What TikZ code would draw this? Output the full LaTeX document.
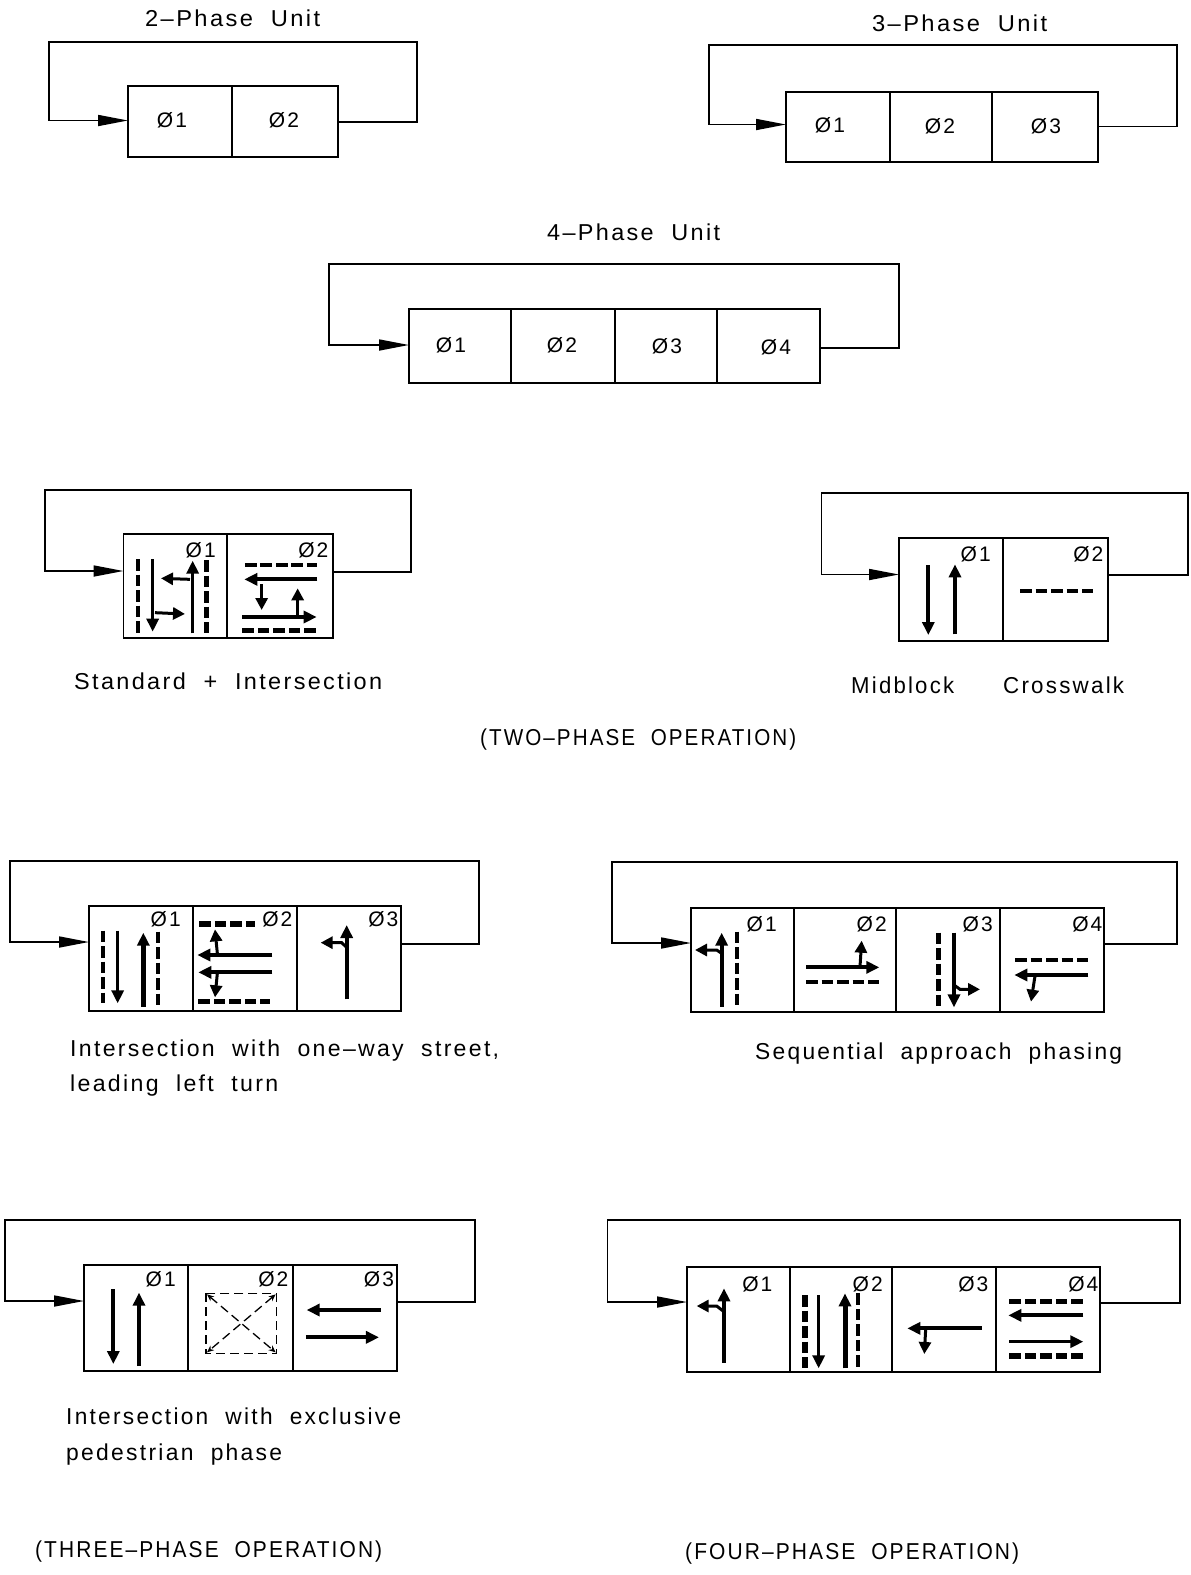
\documentclass[tikz,border=0pt]{standalone}
\usepackage{fontspec}
\usepackage{graphicx}
\newfontfamily\cadfont[LetterSpace=10,WordSpace=2]{Liberation Sans}
\usetikzlibrary{arrows.meta}
\tikzset{
  cellbox/.style={draw=black,line width=1.4pt,inner sep=0pt,outer sep=0pt,fill=white},
  loopline/.style={draw=black,line width=1.7pt,-{Triangle[length=30pt,width=11pt]},shorten >=0pt},
  phaselabel/.style={font=\cadfont\fontsize{21}{21}\selectfont,inner sep=0pt,text=black},
  caption/.style={inner sep=0pt,anchor=base west,text=black},
  road/.style={draw=black,line width=4pt,-{Triangle[length=13pt,width=12pt]}},
  roadthin/.style={draw=black,line width=3.2pt,-{Triangle[length=13pt,width=12pt]}},
  roadthick/.style={draw=black,line width=5pt,-{Triangle[length=13pt,width=12pt]}},
  turn/.style={draw=black,line width=3pt,-{Triangle[length=12pt,width=12pt]}},
  walk/.style={draw=black,line width=5.2pt,dash pattern=on 11.6pt off 3.9pt},
  walkthin/.style={draw=black,line width=4.2pt,dash pattern=on 11.6pt off 3.9pt},
  pedline/.style={draw=black,line width=1.3pt,dash pattern=on 9pt off 5pt},
  pedcross/.style={pedline,{Stealth[length=7pt,width=6pt]}-{Stealth[length=7pt,width=6pt]}},
  zoomed/.style={x=0.33333pt,y=-0.33333pt}
}
% name, x0, x1, y0, y1
\newcommand{\phasecell}[5]{\node[cellbox,minimum width={(#3-#2)*1pt},minimum height={(#5-#4)*1pt}] (#1) at ({(#2+#3)/2},{(#4+#5)/2}) {};}
% first, last, in y-shift, out y-shift, left, top, right
\newcommand{\phaseloop}[7]{\draw[loopline] ([yshift=#4pt]#2.east) -| (#7,#6) -- (#5,#6) |- ([yshift=#3pt]#1.west);}
% name, x left, x right, y centre, text
\newcommand{\cadtext}[5]{\node[caption] (#1) at (#2,#4+8) {\resizebox{\dimexpr#3pt-#2pt\relax}{\height}{\cadfont\fontsize{23}{23}\selectfont #5}};}
\begin{document}
\begin{tikzpicture}[x=1pt,y=-1pt]
\useasboundingbox[fill=white] (0,0) rectangle (1191,1575);

% ---------- plain units
\cadtext{t2}{145}{320}{18}{2–Phase Unit}
\phasecell{pA}{128}{232}{86}{157}
\phasecell{pB}{232}{338}{86}{157}
\phaseloop{pA}{pB}{1}{-0.5}{49}{42}{417}
\node[phaselabel] (pAl) at (172,120) {Ø1};
\node[phaselabel] (pBl) at (284,120) {Ø2};

\cadtext{t3}{872}{1047}{23}{3–Phase Unit}
\phasecell{qA}{786}{890}{92}{162}
\phasecell{qB}{890}{992}{92}{162}
\phasecell{qC}{992}{1098}{92}{162}
\phaseloop{qA}{qC}{2.5}{0.5}{709}{45}{1177}
\node[phaselabel] (qAl) at (830,125) {Ø1};
\node[phaselabel] (qBl) at (940,126) {Ø2};
\node[phaselabel] (qCl) at (1046,126) {Ø3};

\cadtext{t4}{547}{720}{232}{4–Phase Unit}
\phasecell{rA}{409}{511}{309}{383}
\phasecell{rB}{511}{615}{309}{383}
\phasecell{rC}{615}{717}{309}{383}
\phasecell{rD}{717}{820}{309}{383}
\phaseloop{rA}{rD}{1}{-2}{329}{264}{899}
\node[phaselabel] (rAl) at (451,345) {Ø1};
\node[phaselabel] (rBl) at (562,345) {Ø2};
\node[phaselabel] (rCl) at (667,346) {Ø3};
\node[phaselabel] (rDl) at (776,347) {Ø4};

% ---------- Standard intersection
\phasecell{aA}{123.5}{227}{534}{638}
\phasecell{aB}{227}{333}{534}{638}
\phaseloop{aA}{aB}{15}{14}{45}{490}{411}
\begin{scope}[shift={(30,480)},zoomed]
\node[phaselabel] (aAl) at (512,212) {Ø1};
\node[phaselabel] (aBl) at (850,212) {Ø2};
\draw[walkthin] (325,237) -- (325,458);
\draw[roadthin] (368,237) -- (368,455);
\draw[roadthin] (488,460) -- (488,242);
\draw[walk] (530,240) -- (530,458);
\draw[turn] (480,298) -- (393,295);
\draw[turn] (375,398) -- (465,402);
\draw[walkthin] (645,256) -- (862,256);
\draw[road] (862,298) -- (643,298);
\draw[turn] (695,312) -- (695,390);
\draw[turn] (803,405) -- (803,325);
\draw[road] (637,411) -- (860,411);
\draw[walk] (637,452) -- (858,452);
\end{scope}

% ---------- Midblock
\phasecell{bA}{899}{1003}{538}{641}
\phasecell{bB}{1003}{1108}{538}{641}
\phaseloop{bA}{bB}{15}{14.5}{821.5}{493}{1188}
\begin{scope}[shift={(880,525)},zoomed]
\node[phaselabel] (bAl) at (287,88) {Ø1};
\node[phaselabel] (bBl) at (625,88) {Ø2};
\draw[road] (145,120) -- (145,330);
\draw[road] (225,328) -- (225,118);
\draw[walkthin] (420,197) -- (640,197);
\end{scope}

\cadtext{s1}{74}{382}{681}{Standard + Intersection}
\cadtext{s2}{851}{954}{685}{Midblock}
\cadtext{s3}{1003}{1124}{685}{Crosswalk}
\cadtext{s4}{480}{796}{737}{(TWO–PHASE OPERATION)}

% ---------- One-way street
\phasecell{cA}{89}{193}{906}{1011}
\phasecell{cB}{193}{297}{906}{1011}
\phasecell{cC}{297}{401}{906}{1011}
\phaseloop{cA}{cC}{16.5}{14.5}{10}{861}{479}
\begin{scope}[shift={(80,890)},zoomed]
\node[phaselabel] (cAl) at (257,88) {Ø1};
\node[phaselabel] (cBl) at (592,88) {Ø2};
\node[phaselabel] (cCl) at (910,88) {Ø3};
\draw[walkthin] (70,122) -- (70,340);
\draw[roadthin] (113,122) -- (113,340);
\draw[roadthick] (190,350) -- (190,128);
\draw[walkthin] (234,125) -- (234,350);
\draw[walk] (358,102) -- (525,102);
\draw[turn] (412,190) -- (405,118);
\draw[road] (577,195) -- (352,195);
\draw[road] (577,247) -- (355,247);
\draw[turn] (412,250) -- (405,322);
\draw[walk] (355,334) -- (570,334);
\draw[road] (800,328) -- (800,105);
\draw[turn] (800,172) -- (785,158) -- (722,158);
\end{scope}

% ---------- Sequential approach
\phasecell{dA}{691}{794}{908}{1012}
\phasecell{dB}{794}{896}{908}{1012}
\phasecell{dC}{896}{1000}{908}{1012}
\phasecell{dD}{1000}{1104}{908}{1012}
\phaseloop{dA}{dD}{17}{16}{612}{862}{1177}
\begin{scope}[shift={(680,890)},zoomed]
\node[phaselabel] (dAl) at (245,103) {Ø1};
\node[phaselabel] (dBl) at (575,103) {Ø2};
\node[phaselabel] (dCl) at (893,103) {Ø3};
\node[phaselabel] (dDl) at (1222,103) {Ø4};
\draw[road] (125,350) -- (125,128);
\draw[turn] (125,190) -- (110,180) -- (45,180);
\draw[walkthin] (172,125) -- (172,348);
\draw[road] (378,232) -- (598,232);
\draw[turn] (540,230) -- (545,152);
\draw[walkthin] (378,277) -- (598,277);
\draw[walk] (776,128) -- (776,352);
\draw[road] (822,128) -- (822,352);
\draw[turn] (822,285) -- (840,298) -- (900,298);
\draw[walkthin] (1005,211) -- (1225,211);
\draw[road] (1225,255) -- (1003,255);
\draw[turn] (1065,258) -- (1053,335);
\end{scope}

\cadtext{s5}{70}{499}{1048}{Intersection with one–way street,}
\cadtext{s6}{70}{278}{1083}{leading left turn}
\cadtext{s7}{755}{1122}{1051}{Sequential approach phasing}

% ---------- Exclusive pedestrian
\phasecell{eA}{84}{188}{1265}{1371}
\phasecell{eB}{188}{293}{1265}{1371}
\phasecell{eC}{293}{397}{1265}{1371}
\phaseloop{eA}{eC}{17}{16}{5}{1220}{475}
\begin{scope}[shift={(75,1250)},zoomed]
\node[phaselabel] (eAl) at (257,88) {Ø1};
\node[phaselabel] (eBl) at (595,88) {Ø2};
\node[phaselabel] (eCl) at (912,88) {Ø3};
\draw[road] (115,118) -- (115,342);
\draw[road] (192,348) -- (192,128);
\draw[pedline] (393,130) rectangle (605,310);
\draw[pedcross] (396,133) -- (602,307);
\draw[pedcross] (602,133) -- (396,307);
\draw[road] (918,180) -- (695,180);
\draw[road] (693,262) -- (912,262);
\end{scope}

% ---------- Four phase
\phasecell{fA}{687}{790}{1267}{1372}
\phasecell{fB}{790}{892}{1267}{1372}
\phasecell{fC}{892}{996}{1267}{1372}
\phasecell{fD}{996}{1100}{1267}{1372}
\phaseloop{fA}{fD}{17.5}{16.5}{607.5}{1220}{1180}
\begin{scope}[shift={(675,1250)},zoomed]
\node[phaselabel] (fAl) at (247,103) {Ø1};
\node[phaselabel] (fBl) at (578,103) {Ø2};
\node[phaselabel] (fCl) at (895,103) {Ø3};
\node[phaselabel] (fDl) at (1225,103) {Ø4};
\draw[road] (147,338) -- (147,115);
\draw[turn] (147,185) -- (125,168) -- (65,168);
\draw[walk] (390,135) -- (390,355);
\draw[roadthin] (431,135) -- (431,355);
\draw[roadthick] (510,355) -- (510,130);
\draw[walkthin] (550,130) -- (550,355);
\draw[road] (920,235) -- (697,235);
\draw[turn] (752,238) -- (748,312);
\draw[walk] (1003,154) -- (1225,154);
\draw[road] (1225,196) -- (1000,196);
\draw[roadthin] (1003,275) -- (1225,275);
\draw[walk] (1003,318) -- (1225,318);
\end{scope}

\cadtext{s8}{66}{401}{1416}{Intersection with exclusive}
\cadtext{s9}{66}{282}{1452}{pedestrian phase}
\cadtext{s10}{35}{382}{1549}{(THREE–PHASE OPERATION)}
\cadtext{s11}{685}{1019}{1551}{(FOUR–PHASE OPERATION)}
\end{tikzpicture}
\end{document}
